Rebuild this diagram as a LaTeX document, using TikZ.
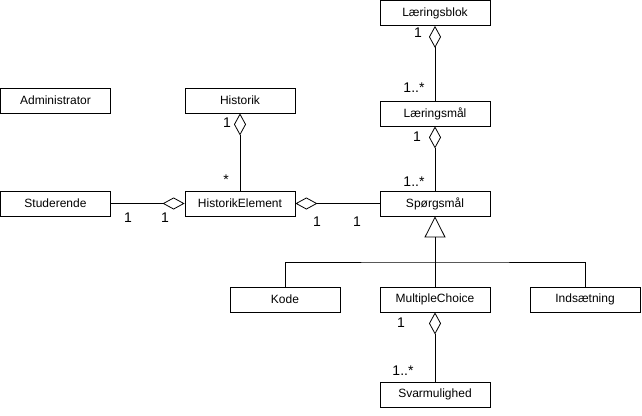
\documentclass[tikz,border=0pt]{standalone}
\usepackage{fontspec}
\setmainfont{Liberation Sans}
\usetikzlibrary{arrows.meta}
\begin{document}
\begin{tikzpicture}[x=1pt,y=-1pt,
  cls/.style={draw, line width=0.8pt, minimum width=110pt, minimum height=25pt, inner sep=0pt, font=\fontsize{12}{14}\selectfont},
  mult/.style={anchor=base, inner sep=0pt, font=\fontsize{14}{16}\selectfont},
  agg/.style={line width=0.8pt, -{Diamond[open,length=22pt,width=12pt,line width=0.8pt]}},
  gen/.style={line width=0.8pt, -{Triangle[open,length=21pt,width=21pt,line width=0.8pt]}},
  conn/.style={line width=0.8pt}]
\useasboundingbox (0,0) rectangle (642,415);
\node[cls] (lb) at (435,13) {Læringsblok};
\node[cls] (lm) at (435,113.5) {Læringsmål};
\node[cls] (sp) at (435,203.5) {Spørgsmål};
\node[cls] (adm) at (55.5,100.5) {Administrator};
\node[cls] (hist) at (240,100.5) {Historik};
\node[cls] (stud) at (55.5,203.5) {Studerende};
\node[cls] (hel) at (240,203.5) {HistorikElement};
\node[cls] (kode) at (285,299.5) {Kode};
\node[cls] (mc) at (435,299.5) {MultipleChoice};
\node[cls] (ind) at (585,299.5) {Indsætning};
\node[cls] (sv) at (435,394.5) {Svarmulighed};
\draw[agg] (lm.north) -- (lb.south);
\draw[agg] (sp.north) -- (lm.south);
\draw[agg] (hel.north) -- (hist.south);
\draw[agg] (stud.east) -- (hel.west);
\draw[agg] (sp.west) -- (hel.east);
\draw[agg] (sv.north) -- (mc.south);
\draw[gen] (mc.north) -- (sp.south);
\coordinate (bar) at (435,262);
\draw[conn] (kode.north) |- (bar) -| (ind.north);
\node[mult] (l1) at (418,37) {1};
\node[mult] (l2) at (414,92) {1..*};
\node[mult] (l3) at (417,141) {1};
\node[mult] (l4) at (414,186) {1..*};
\node[mult] (l5) at (227,127) {1};
\node[mult] (l6) at (226,184) {*};
\node[mult] (l7) at (128,222) {1};
\node[mult] (l8) at (165,222) {1};
\node[mult] (l9) at (317,226) {1};
\node[mult] (l10) at (357,226) {1};
\node[mult] (l11) at (401,327) {1};
\node[mult] (l12) at (403,375) {1..*};
\end{tikzpicture}
\end{document}
